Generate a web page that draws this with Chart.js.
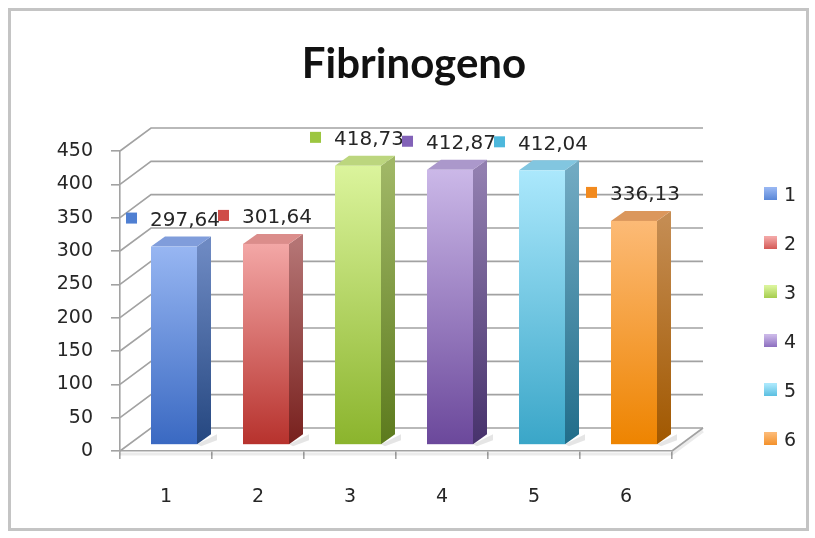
<!DOCTYPE html>
<html>
<head>
<meta charset="utf-8">
<title>Fibrinogeno</title>
<script src="https://cdn.jsdelivr.net/npm/chart.js@4.4.1/dist/chart.umd.min.js"></script>
<style>
  html, body { margin: 0; padding: 0; background: #ffffff; }
  #frame {
    position: absolute; left: 8px; top: 8px; width: 795px; height: 517px;
    border: 3px solid #c4c4c4; background: #ffffff;
  }
  #holder { position: absolute; left: 0; top: 0; width: 815px; height: 538px; }
</style>
</head>
<body>
<div id="frame"></div>
<div id="holder"><canvas id="chart"></canvas></div>
<script>
// ---- data ----
const categories = ['1', '2', '3', '4', '5', '6'];
const values = [297.64, 301.64, 418.73, 412.87, 412.04, 336.13];
const yTickValues = [0, 50, 100, 150, 200, 250, 300, 350, 400, 450];
const chartTitle = 'Fibrinogeno';

// ---- styles ----
const palette = [
  { front: ['#97b6f2', '#3a69c2'], side: ['#6d89c2', '#254780'], top: '#809ddb', key: '#4f7fd2' },
  { front: ['#f3a7a6', '#b7322d'], side: ['#b47474', '#78201d'], top: '#db8d8b', key: '#cf4c48' },
  { front: ['#dbf49c', '#8bb42d'], side: ['#a0b766', '#5c7a1d'], top: '#bcd67e', key: '#9cc640' },
  { front: ['#cbb8e8', '#6b489b'], side: ['#927fb0', '#47326c'], top: '#ab98cb', key: '#8262b8' },
  { front: ['#abe8fc', '#3aa6c8'], side: ['#71aac2', '#216d8a'], top: '#82c6e0', key: '#4db8dc' },
  { front: ['#fcba76', '#ee8400'], side: ['#c48c52', '#a15800'], top: '#db975c', key: '#f28a1e' }
];
const WALL = { dx: 31, dy: -23 };       // offset of the back wall from the front plane
const BAR_SHIFT = { x: 8, y: -6 };      // bar front faces sit slightly behind the axis plane
const BAR_DEPTH = { dx: 14, dy: -10 };  // box depth of each bar
const GRID_COLOR = '#a2a2a2';
const TEXT_COLOR = '#262626';
const FONT = 'DejaVu Sans';

function fmt(v) { return v.toFixed(2).replace('.', ','); }

function vGrad(ctx, y0, y1, c0, c1) {
  const g = ctx.createLinearGradient(0, y0, 0, y1);
  g.addColorStop(0, c0);
  g.addColorStop(1, c1);
  return g;
}

function drawBox(ctx, x0, y0, w, h, c) {
  const dx = BAR_DEPTH.dx, dy = BAR_DEPTH.dy;
  // soft shadow on the floor
  ctx.fillStyle = 'rgba(0,0,0,0.10)';
  ctx.beginPath();
  ctx.moveTo(x0 + w, y0 + h);
  ctx.lineTo(x0 + w + dx + 6, y0 + h + dy);
  ctx.lineTo(x0 + w + dx + 6, y0 + h + dy + 6);
  ctx.lineTo(x0 + w + 4, y0 + h + 2);
  ctx.closePath();
  ctx.fill();
  // right side
  ctx.fillStyle = vGrad(ctx, y0, y0 + h, c.side[0], c.side[1]);
  ctx.beginPath();
  ctx.moveTo(x0 + w, y0);
  ctx.lineTo(x0 + w + dx, y0 + dy);
  ctx.lineTo(x0 + w + dx, y0 + h + dy);
  ctx.lineTo(x0 + w, y0 + h);
  ctx.closePath();
  ctx.fill();
  // top
  ctx.fillStyle = c.top;
  ctx.beginPath();
  ctx.moveTo(x0, y0);
  ctx.lineTo(x0 + dx, y0 + dy);
  ctx.lineTo(x0 + w + dx, y0 + dy);
  ctx.lineTo(x0 + w, y0);
  ctx.closePath();
  ctx.fill();
  // front
  ctx.fillStyle = vGrad(ctx, y0, y0 + h, c.front[0], c.front[1]);
  ctx.fillRect(x0, y0, w, h);
}

const depth3d = {
  id: 'depth3d',
  beforeDatasetsDraw(chart) {
    const { ctx, chartArea: a, scales: { y } } = chart;
    ctx.save();

    // back wall gridlines, folded back from the value axis
    ctx.strokeStyle = GRID_COLOR;
    ctx.lineWidth = 1.6;
    yTickValues.forEach(v => {
      const py = y.getPixelForValue(v);
      ctx.beginPath();
      ctx.moveTo(a.left, py);
      ctx.lineTo(a.left + WALL.dx, py + WALL.dy);
      ctx.lineTo(a.right + WALL.dx, py + WALL.dy);
      ctx.stroke();
    });
    // floor right edge and a thin front slab
    ctx.beginPath();
    ctx.moveTo(a.right, a.bottom);
    ctx.lineTo(a.right + WALL.dx, a.bottom + WALL.dy);
    ctx.stroke();
    ctx.strokeStyle = 'rgba(0,0,0,0.08)';
    ctx.lineWidth = 3;
    ctx.beginPath();
    ctx.moveTo(a.left, a.bottom + 3);
    ctx.lineTo(a.right, a.bottom + 3);
    ctx.lineTo(a.right + WALL.dx, a.bottom + WALL.dy + 3);
    ctx.stroke();

    // bars
    const labels = [];
    chart.data.datasets.forEach((ds, i) => {
      const meta = chart.getDatasetMeta(i);
      meta.data.forEach((el, j) => {
        if (ds.data[j] == null) return;
        const p = el.getProps(['x', 'y', 'base', 'width'], true);
        const x0 = p.x - p.width / 2 + BAR_SHIFT.x;
        const top = p.y + BAR_SHIFT.y;
        drawBox(ctx, x0, top, p.width, p.base - p.y, palette[i]);
        labels.push({ i, cx: p.x + BAR_SHIFT.x + 11, cy: top - 26, text: fmt(ds.data[j]) });
      });
    });

    // value labels with their legend keys
    ctx.font = '20px "' + FONT + '"';
    ctx.textBaseline = 'middle';
    ctx.textAlign = 'left';
    labels.forEach(l => {
      const w = ctx.measureText(l.text).width;
      const tx = l.cx - w / 2;
      ctx.fillStyle = TEXT_COLOR;
      ctx.fillText(l.text, tx, l.cy);
      ctx.fillStyle = palette[l.i].key;
      ctx.fillRect(tx - 13 - 11, l.cy - 8, 11, 11);
    });

    ctx.restore();
    return false;
  },
  afterDraw(chart) {
    const ctx = chart.ctx;
    ctx.save();
    // title
    ctx.font = 'bold 42px Lato';
    ctx.fillStyle = '#111111';
    ctx.textAlign = 'center';
    ctx.textBaseline = 'alphabetic';
    ctx.fillText(chartTitle, 414, 78);
    // legend
    ctx.font = '19px "' + FONT + '"';
    ctx.textAlign = 'left';
    ctx.textBaseline = 'middle';
    chart.data.datasets.forEach((ds, i) => {
      const cy = 195 + i * 49;
      ctx.fillStyle = vGrad(ctx, cy - 7, cy + 7, palette[i].front[0], palette[i].key);
      ctx.fillRect(764, cy - 8, 13, 13);
      ctx.fillStyle = TEXT_COLOR;
      ctx.fillText(ds.label, 784, cy + 1);
    });
    ctx.restore();
  }
};

const datasets = categories.map((cat, i) => ({
  label: cat,
  data: categories.map((_, j) => (j === i ? values[i] : null)),
  backgroundColor: palette[i].key,
  grouped: false,
  barPercentage: 0.5,
  categoryPercentage: 1.0
}));

new Chart(document.getElementById('chart'), {
  type: 'bar',
  data: { labels: categories, datasets },
  plugins: [depth3d],
  options: {
    responsive: true,
    maintainAspectRatio: false,
    animation: false,
    layout: { padding: { top: 151, left: 0, right: 143, bottom: 0 } },
    plugins: {
      legend: { display: false },
      title: { display: false },
      tooltip: { enabled: false }
    },
    scales: {
      x: {
        offset: true,
        grid: { display: true, drawOnChartArea: false, drawTicks: true, tickLength: 8, color: GRID_COLOR, lineWidth: 1.6, offset: true },
        border: { display: true, color: GRID_COLOR, width: 1.6 },
        ticks: { font: { family: FONT, size: 19 }, color: TEXT_COLOR, padding: 27, maxRotation: 0 },
        afterFit: s => { s.height = 87; }
      },
      y: {
        min: 0,
        max: 450,
        afterBuildTicks: s => { s.ticks = yTickValues.map(v => ({ value: v })); },
        grid: { display: true, drawOnChartArea: false, drawTicks: true, tickLength: 9, color: GRID_COLOR, lineWidth: 1.6 },
        border: { display: true, color: GRID_COLOR, width: 1.6 },
        ticks: { font: { family: FONT, size: 19 }, color: TEXT_COLOR, padding: 18 },
        afterFit: s => { s.width = 120; }
      }
    }
  }
});
</script>
</body>
</html>
